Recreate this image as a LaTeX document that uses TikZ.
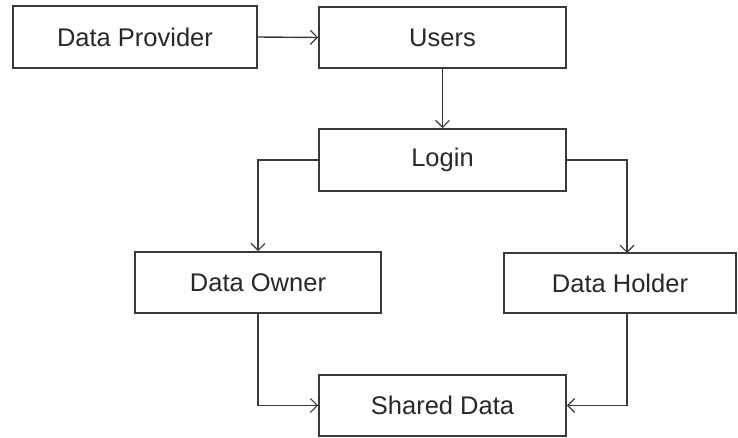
\documentclass[tikz,border=0pt]{standalone}
\usepackage{fontspec}
\setmainfont{Liberation Sans}
\usetikzlibrary{arrows.meta}
\definecolor{linegray}{RGB}{58,58,58}
\definecolor{textgray}{RGB}{40,40,40}
\begin{document}
\begin{tikzpicture}[x=1pt,y=-1pt,
  box/.style={draw=linegray,line width=1.6pt,fill=white,inner sep=0pt,
    text=textgray,font=\fontsize{25.5}{28}\selectfont},
  link/.style={draw=linegray,line width=1.4pt,
    -{Straight Barb[length=7pt,width=14pt,line width=1.2pt]}}]
\useasboundingbox (0,0) rectangle (738,438);

% boxes
\node[box,minimum width=244pt,minimum height=62pt] (prov)   at (135,37)     {Data Provider};
\node[box,minimum width=247pt,minimum height=61pt] (users)  at (442.5,37.5) {Users};
\node[box,minimum width=247pt,minimum height=62pt] (login)  at (442.5,160)  {Login};
\node[box,minimum width=246pt,minimum height=61pt] (owner)  at (258,282.5)  {Data Owner};
\node[box,minimum width=232pt,minimum height=60pt] (holder) at (620,283)    {Data Holder};
\node[box,minimum width=247pt,minimum height=61pt] (shared) at (442.5,405.5){Shared Data};

% connection points on the holder box
\coordinate (holderTop) at (627,253);
\coordinate (holderBot) at (627,313);

% connectors
\draw[link] (prov.east) -- (users.west);
\draw[link] (users.south) -- (login.north);
\draw[link] (login.west) -| (owner.north);
\draw[link] (login.east) -| (holderTop);
\draw[link] (owner.south) |- (shared.west);
\draw[link] (holderBot) |- (shared.east);
\end{tikzpicture}
\end{document}
